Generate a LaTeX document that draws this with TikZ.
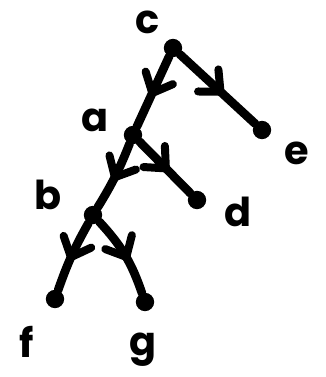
\documentclass[tikz,border=0pt]{standalone}
\usepackage{fontspec}
\setmainfont{Poppins}
\usetikzlibrary{arrows.meta,decorations.markings}
\begin{document}
\begin{tikzpicture}[x=0.03cm,y=-0.03cm,
  vert/.style={circle,fill=black,inner sep=0pt,minimum size=0.55cm},
  lab/.style={font=\fontsize{34}{38}\selectfont\bfseries,inner sep=0pt},
  edge/.style={line width=2.6mm,line cap=round,
    postaction={decorate,decoration={markings,
      mark=at position 0.6 with {\arrow[line width=2.4mm]{Straight Barb[length=5mm,width=9mm,line cap=round]}}}}}]
\useasboundingbox (0,0) rectangle (325,377);
\node[vert] (c) at (173,48) {};
\node[vert] (a) at (133,135) {};
\node[vert] (e) at (262,130) {};
\node[vert] (b) at (93,215) {};
\node[vert] (d) at (197,200) {};
\node[vert] (f) at (55,299) {};
\node[vert] (g) at (145,302) {};
\node[lab] (lc) at (148,22) {c};
\node[lab] (la) at (95,120) {a};
\node[lab] (le) at (297,153) {e};
\node[lab] (lb) at (48,195) {b};
\node[lab] (ld) at (238,212) {d};
\node[lab] (lf) at (27,342) {f};
\node[lab] (lg) at (143,350) {g};
\draw[edge] (c) -- (a);
\draw[edge] (c) -- (e);
\draw[edge] (a) to[bend left=5] (b);
\draw[edge] (a) -- (d);
\draw[edge] (b) to[bend right=5] (f);
\draw[edge] (b) to[bend left=12] (g);
\end{tikzpicture}
\end{document}
